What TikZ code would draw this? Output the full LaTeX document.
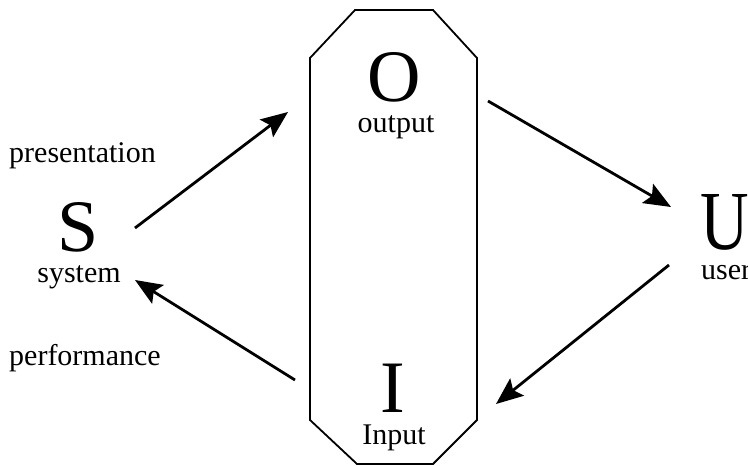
\documentclass[tikz,border=0pt]{standalone}
\usepackage{fontspec}
\setmainfont{Liberation Serif}
\usetikzlibrary{arrows.meta}
\begin{document}
\begin{tikzpicture}[x=1pt,y=-1pt,
  big/.style={font=\fontsize{74}{80}\selectfont, inner sep=0pt, anchor=base},
  small/.style={font=\fontsize{30}{34}\selectfont, inner sep=0pt, anchor=base},
  flow/.style={line width=2.8pt, -{Stealth[length=27pt,width=22pt,inset=5pt]}},
  frame/.style={line width=1.8pt, line join=miter}]
\useasboundingbox (0,0) rectangle (748,466);
\clip (0,0) rectangle (748,466);

% central octagon holding output and input
\draw[frame] (355,10) -- (433,10) -- (477,58) -- (477,420) -- (433,464)
  -- (357,464) -- (310,420) -- (310,58) -- cycle;

% letters and their captions
\node[big] (S) at (78,251) {S};
\node[small] (sys) at (79,282) {system};
\node[big] (O) at (394,101) {O};
\node[small] (out) at (396,132) {output};
\node[big] (I) at (393,412) {I};
\node[small] (inp) at (394,444) {Input};
\node[big, anchor=base west, font=\fontsize{84}{88}\selectfont] (U) at (700,249) {\scalebox{0.8}[1]{U}};
\node[small, anchor=base west] (usr) at (701,279) {user};

% side labels
\node[small, anchor=base west] (pres) at (9,162) {presentation};
\node[small, anchor=base west] (perf) at (9,365) {performance};

% arrow end points
\coordinate (s1) at (135,228);
\coordinate (o1) at (288,112);
\coordinate (i1) at (295,380);
\coordinate (s2) at (135,280);
\coordinate (o2) at (488,101);
\coordinate (u1) at (671,207);
\coordinate (u2) at (669,265);
\coordinate (i2) at (496,404);

\draw[flow] (s1) -- (o1);
\draw[flow] (i1) -- (s2);
\draw[flow] (o2) -- (u1);
\draw[flow] (u2) -- (i2);
\end{tikzpicture}
\end{document}
